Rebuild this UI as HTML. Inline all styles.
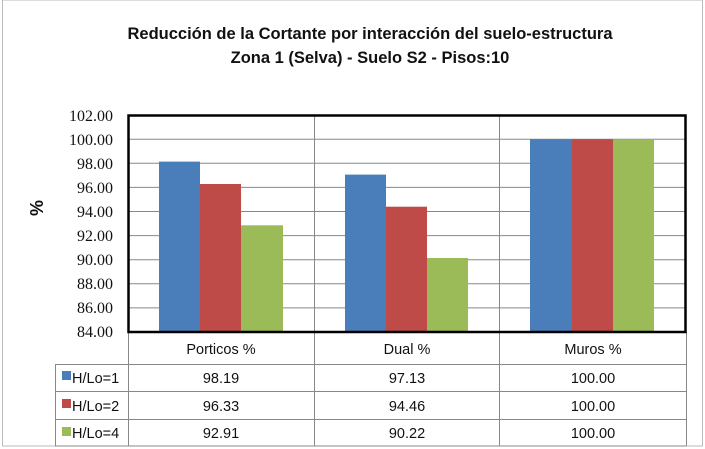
<!DOCTYPE html>
<html><head><meta charset="utf-8"><style>
body{margin:0;background:#fff}
svg{display:block;font-family:"Liberation Sans",sans-serif}
.tk{font-family:"Liberation Serif",serif;font-size:16px}
</style></head><body>
<svg width="705" height="449" viewBox="0 0 705 449">
<rect x="0" y="0" width="705" height="449" fill="#fff"/>
<rect x="2.5" y="0" width="700" height="446" fill="none" stroke="#bbb"/>
<text x="370" y="39" font-size="16.5" font-weight="bold" text-anchor="middle" fill="#111">Reducción de la Cortante por interacción del suelo-estructura</text>
<text x="370" y="63" font-size="16.5" font-weight="bold" text-anchor="middle" fill="#111">Zona 1 (Selva) - Suelo S2 - Pisos:10</text>
<g stroke="#888" stroke-width="1">
<line x1="128" y1="139.2" x2="686" y2="139.2"/>
<line x1="128" y1="163.3" x2="686" y2="163.3"/>
<line x1="128" y1="187.4" x2="686" y2="187.4"/>
<line x1="128" y1="211.5" x2="686" y2="211.5"/>
<line x1="128" y1="235.6" x2="686" y2="235.6"/>
<line x1="128" y1="259.7" x2="686" y2="259.7"/>
<line x1="128" y1="283.8" x2="686" y2="283.8"/>
<line x1="128" y1="307.9" x2="686" y2="307.9"/>
<line x1="314.5" y1="115" x2="314.5" y2="446"/>
<line x1="499.5" y1="115" x2="499.5" y2="446"/>
<line x1="128.5" y1="332" x2="128.5" y2="446"/>
<line x1="55.5" y1="364" x2="55.5" y2="446"/>
<line x1="686.5" y1="332" x2="686.5" y2="446"/>
<line x1="55" y1="364.5" x2="686" y2="364.5"/>
<line x1="55" y1="391.5" x2="686" y2="391.5"/>
<line x1="55" y1="419.5" x2="686" y2="419.5"/>
<line x1="55" y1="446" x2="686" y2="446"/>
</g>
<g>
<rect x="159" y="161.6" width="41" height="170.4" fill="#4a7ebb"/>
<rect x="200" y="184" width="41" height="148" fill="#be4b48"/>
<rect x="241" y="225.3" width="42" height="106.7" fill="#9bbb59"/>
<rect x="345" y="174.6" width="41" height="157.4" fill="#4a7ebb"/>
<rect x="386" y="206.7" width="41" height="125.3" fill="#be4b48"/>
<rect x="427" y="258" width="41" height="74" fill="#9bbb59"/>
<rect x="530" y="139.2" width="42" height="192.8" fill="#4a7ebb"/>
<rect x="572" y="139.2" width="41" height="192.8" fill="#be4b48"/>
<rect x="613" y="139.2" width="41" height="192.8" fill="#9bbb59"/>
</g>
<rect x="128.5" y="115.5" width="557" height="216.5" fill="none" stroke="#000" stroke-width="2.5"/>
<g class="tk" text-anchor="end" fill="#111">
<text x="113" y="121">102.00</text><text x="113" y="145">100.00</text><text x="113" y="169">98.00</text>
<text x="113" y="193">96.00</text><text x="113" y="217">94.00</text><text x="113" y="241">92.00</text>
<text x="113" y="265">90.00</text><text x="113" y="289">88.00</text><text x="113" y="313">86.00</text>
<text x="113" y="337">84.00</text>
</g>
<text x="0" y="0" font-size="18" font-weight="bold" transform="translate(43,208) rotate(-90)" text-anchor="middle" fill="#111">%</text>
<g font-size="14.5" text-anchor="middle" fill="#111">
<text x="221" y="354">Porticos %</text><text x="407" y="354">Dual  %</text><text x="593" y="354">Muros %</text>
<text x="221" y="383">98.19</text><text x="407" y="383">97.13</text><text x="593" y="383">100.00</text>
<text x="221" y="411">96.33</text><text x="407" y="411">94.46</text><text x="593" y="411">100.00</text>
<text x="221" y="438">92.91</text><text x="407" y="438">90.22</text><text x="593" y="438">100.00</text>
</g>
<g font-size="14.5" fill="#111">
<rect x="62" y="371" width="9" height="9" fill="#4a7ebb"/><text x="72" y="383">H/Lo=1</text>
<rect x="62" y="399" width="9" height="9" fill="#be4b48"/><text x="72" y="411">H/Lo=2</text>
<rect x="62" y="427" width="9" height="9" fill="#9bbb59"/><text x="72" y="438">H/Lo=4</text>
</g>
</svg>
</body></html>
